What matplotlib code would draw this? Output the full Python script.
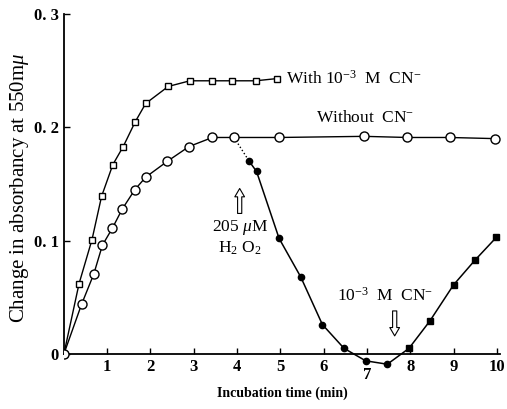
import numpy as np
import matplotlib.pyplot as plt

plt.rcParams['font.family'] = ['Liberation Serif', 'DejaVu Serif']
plt.rcParams['mathtext.fontset'] = 'custom'
plt.rcParams['mathtext.rm'] = 'Liberation Serif'
plt.rcParams['mathtext.it'] = 'Liberation Serif:italic'

# with 1e-3 M cyanide (open squares)
t_cn = [0, 0.35, 0.65, 0.87, 1.13, 1.37, 1.65, 1.89, 2.41, 2.91, 3.43, 3.89, 4.43, 4.93]
v_cn = [0, 0.062, 0.101, 0.139, 0.167, 0.183, 0.205, 0.221, 0.236, 0.241, 0.241, 0.241, 0.241, 0.243]

# without cyanide (open circles)
t_no = [0, 0.41, 0.69, 0.89, 1.12, 1.35, 1.64, 1.89, 2.39, 2.89, 3.43, 3.93, 4.97, 6.94, 7.93, 8.91, 9.95]
v_no = [0, 0.044, 0.0705, 0.096, 0.111, 0.128, 0.145, 0.156, 0.170, 0.183, 0.191, 0.191, 0.191, 0.192, 0.191, 0.191, 0.190]

# after H2O2 addition (filled circles)
t_h2o2 = [4.28, 4.45, 4.97, 5.47, 5.97, 6.47, 6.97, 7.47]
v_h2o2 = [0.170, 0.161, 0.102, 0.068, 0.026, 0.005, -0.006, -0.009]

# after cyanide addition (filled squares)
t_add = [7.97, 8.45, 9.0, 9.49, 9.99]
v_add = [0.005, 0.029, 0.061, 0.0826, 0.103]

xticks = [1, 2, 3, 4, 5, 6, 7, 8, 9, 10]
yticks = [0, 0.1, 0.2, 0.3]
ytick_labels = ['0', '0. 1', '0. 2', '0. 3']

fig = plt.figure(figsize=(5.07, 4.09), dpi=100)
ax = fig.add_axes([0.126, 0.079, 0.86, 0.887])

ax.plot(t_cn, v_cn, '-', color='black', lw=1.0, marker='s', ms=5,
        mfc='white', mec='black', mew=1.0, zorder=3)
ax.plot(t_no, v_no, '-', color='black', lw=1.0, marker='o', ms=6.5,
        mfc='white', mec='black', mew=1.0, zorder=3)
# dotted link from last circle before H2O2 to first filled point
ax.plot([t_no[11], t_h2o2[0]], [v_no[11], v_h2o2[0]], ':', color='black', lw=1.0)
ax.plot(t_h2o2 + [t_add[0]], v_h2o2 + [v_add[0]], '-', color='black', lw=1.1)
ax.plot(t_h2o2, v_h2o2, 'o', color='black', ms=4.5, zorder=4)
ax.plot(t_add, v_add, '-', color='black', lw=1.1, marker='s', ms=5, zorder=4)

ax.set_xlim(0, 10.07)
ax.set_ylim(-0.02, 0.3)
ax.spines['top'].set_visible(False)
ax.spines['right'].set_visible(False)
ax.spines['bottom'].set_position(('data', 0))
ax.spines['left'].set_bounds(0, 0.3)
ax.spines['left'].set_linewidth(1.3)
ax.spines['bottom'].set_linewidth(1.3)

ax.set_xticks(xticks)
ax.set_yticks(yticks)
ax.set_yticklabels(ytick_labels)
ax.tick_params(direction='in', length=4, width=1.0, labelsize=12)
for lab in ax.get_xticklabels() + ax.get_yticklabels():
    lab.set_fontweight('bold')
ax.xaxis.get_major_ticks()[6].set_pad(9)

ax.set_xlabel('Incubation time (min)', fontsize=10, fontweight='bold')
ax.xaxis.set_label_coords(0.5, -0.028)
ax.set_ylabel('Change in absorbancy at 550m$\\mu$', fontsize=15)
ax.yaxis.set_label_coords(-0.075, 0.52)

ax.text(5.13, 0.243, 'With 10$^{-3}$  M  CN$^{-}$', fontsize=12.5, ha='left', va='center')
ax.text(6.95, 0.208, 'Without  CN$^{-}$', fontsize=12.5, ha='center', va='center')
ax.text(4.06, 0.1115, '205 $\\mathit{\\mu}$M', fontsize=12.5, ha='center', va='center')
ax.text(4.06, 0.093, 'H$_2$ O$_2$', fontsize=12.5, ha='center', va='center')
ax.text(7.41, 0.051, '10$^{-3}$  M  CN$^{-}$', fontsize=12.5, ha='center', va='center')

arrow = dict(arrowstyle='simple,head_width=0.7,head_length=0.6,tail_width=0.3',
             fc='white', ec='black', lw=0.8, shrinkA=0, shrinkB=0)
ax.annotate('', xy=(4.06, 0.146), xytext=(4.06, 0.124), arrowprops=arrow)
ax.annotate('', xy=(7.64, 0.016), xytext=(7.64, 0.038), arrowprops=arrow)

fig.savefig('out.png', dpi=100)
